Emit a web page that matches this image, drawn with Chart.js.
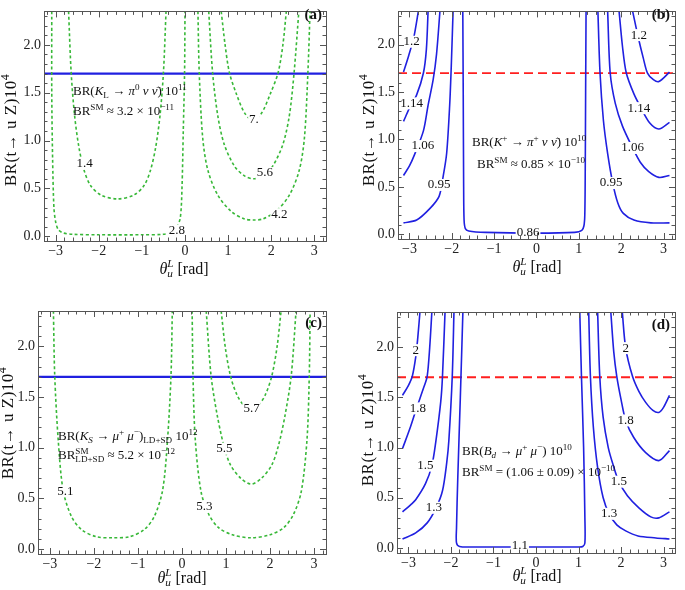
<!DOCTYPE html>
<html>
<head>
<meta charset="utf-8">
<script src="https://cdn.jsdelivr.net/npm/chart.js@4.4.0/dist/chart.umd.min.js"></script>
<style>
body { margin: 0; background: #fff; width: 685px; height: 590px; position: relative; overflow: hidden; }
canvas { position: absolute; }
</style>
</head>
<body>
<canvas id="pa" width="340" height="290" style="left:0;top:0"></canvas>
<canvas id="pb" width="345" height="290" style="left:340px;top:0"></canvas>
<canvas id="pc" width="340" height="300" style="left:0;top:290px"></canvas>
<canvas id="pd" width="345" height="300" style="left:340px;top:290px"></canvas>
<script>
// axes
const thetaTicks = [-3, -2, -1, 0, 1, 2, 3];
const brTicks = [0, 0.5, 1.0, 1.5, 2.0];
const brLimit = 1.7;          // BR(t -> u Z) bound, x10^-4
const thetaSpan = [-3.27, 3.27];

// (a) BR(K_L -> pi0 nu nubar) x10^11 contours, [theta, BR]
const kl14 = [[-2.70,2.35],[-2.64,1.71],[-2.56,1.26],[-2.46,0.93],[-2.34,0.69],[-2.19,0.53],[-1.95,0.43],[-1.57,0.39],[-1.19,0.43],[-0.95,0.53],[-0.80,0.69],[-0.68,0.93],[-0.58,1.26],[-0.50,1.71],[-0.44,2.35]];
const kl28 = [[-3.09,2.35],[-3.09,1.5],[-3.07,0.8],[-3.04,0.3],[-3.0,0.15],[-2.94,0.07],[-2.83,0.035],[-2.6,0.02],[-2.0,0.015],[-1.0,0.015],[-0.5,0.02],[-0.32,0.04],[-0.2,0.09],[-0.11,0.19],[-0.07,0.5],[-0.04,1.1],[-0.01,1.71],[0.0,2.35]];
const kl42 = [[0.30,2.35],[0.33,1.71],[0.41,1.03],[0.53,0.69],[0.76,0.43],[1.07,0.26],[1.38,0.18],[1.59,0.17],[1.80,0.18],[2.11,0.26],[2.42,0.43],[2.65,0.69],[2.77,1.03],[2.85,1.71],[2.90,2.35]];
const kl56 = [[0.55,2.35],[0.64,1.71],[0.76,1.26],[0.91,0.96],[1.15,0.73],[1.38,0.63],[1.59,0.60],[1.80,0.63],[2.03,0.73],[2.27,0.96],[2.42,1.26],[2.53,1.71],[2.64,2.35]];
const kl70 = [[0.84,2.35],[0.93,2.0],[1.03,1.71],[1.19,1.49],[1.38,1.29],[1.58,1.21],[1.78,1.29],[1.98,1.49],[2.16,1.71],[2.27,2.0],[2.35,2.35]];
const klLabels = [['1.4',-2.33,0.76],['2.8',-0.19,0.06],['4.2',2.19,0.23],['5.6',1.85,0.66],['7.',1.60,1.22]];

// (b) BR(K+ -> pi+ nu nubar) x10^10 contours
const kp120L = [[-3.14,1.71],[-3.02,1.88],[-2.9,2.07],[-2.79,2.35]];
const kp114L = [[-3.14,1.19],[-3.0,1.33],[-2.83,1.47],[-2.67,1.70],[-2.6,1.95],[-2.56,2.35]];
const kp106L = [[-3.14,0.62],[-3.0,0.72],[-2.88,0.84],[-2.67,1.09],[-2.56,1.36],[-2.44,1.63],[-2.36,1.9],[-2.28,2.35]];
const kp095L = [[-3.14,0.12],[-2.83,0.15],[-2.52,0.27],[-2.3,0.40],[-2.2,0.62],[-2.12,0.86],[-2.05,1.36],[-2.01,1.8],[-1.97,2.35]];
const kp086 = [[-1.74,2.35],[-1.73,1.5],[-1.72,0.5],[-1.71,0.15],[-1.68,0.06],[-1.6,0.035],[-1.2,0.02],[0,0.012],[0.9,0.02],[1.07,0.04],[1.12,0.09],[1.14,0.2],[1.15,0.6],[1.16,1.5],[1.17,2.35]];
const kp095R = [[1.45,2.35],[1.50,1.70],[1.58,1.2],[1.68,0.85],[1.8,0.54],[1.92,0.33],[2.05,0.22],[2.3,0.15],[2.7,0.12],[3.14,0.12]];
const kp106R = [[1.68,2.35],[1.74,1.70],[1.86,1.38],[2.03,1.14],[2.27,0.91],[2.45,0.76],[2.65,0.66],[2.89,0.60],[3.14,0.62]];
const kp114R = [[1.95,2.35],[2.03,1.98],[2.12,1.70],[2.3,1.48],[2.47,1.33],[2.68,1.17],[2.89,1.11],[3.14,1.18]];
const kp120R = [[2.27,2.35],[2.40,2.08],[2.52,1.86],[2.62,1.70],[2.76,1.63],[2.89,1.61],[3.14,1.71]];
const kpLabels = [['1.2',-2.95,2.03],['1.2',2.42,2.10],['1.14',-2.95,1.38],['1.14',2.42,1.33],['1.06',-2.68,0.93],['1.06',2.27,0.91],['0.95',-2.30,0.52],['0.95',1.76,0.54],['0.86',-0.2,0.02]];

// (c) BR(K_S -> mu+ mu-)_LD+SD x10^12 contours
const ks51 = [[-2.92,2.35],[-2.89,1.71],[-2.81,1.07],[-2.70,0.58],[-2.51,0.32],[-2.28,0.19],[-1.94,0.12],[-1.57,0.11],[-1.20,0.12],[-0.86,0.19],[-0.63,0.32],[-0.44,0.58],[-0.33,1.07],[-0.25,1.71],[-0.22,2.35]];
const ks53 = [[0.23,2.35],[0.25,1.71],[0.30,1.09],[0.43,0.57],[0.61,0.34],[0.83,0.21],[1.14,0.14],[1.57,0.11],[2.0,0.14],[2.31,0.21],[2.53,0.34],[2.71,0.57],[2.84,1.09],[2.89,1.71],[2.91,2.35]];
const ks55 = [[0.55,2.35],[0.66,1.71],[0.80,1.32],[0.95,1.02],[1.10,0.83],[1.33,0.70],[1.57,0.64],[1.81,0.70],[2.04,0.83],[2.19,1.02],[2.34,1.32],[2.48,1.71],[2.59,2.35]];
const ks57 = [[0.89,2.35],[0.98,2.0],[1.10,1.71],[1.25,1.52],[1.42,1.41],[1.57,1.38],[1.72,1.41],[1.89,1.52],[2.04,1.71],[2.16,2.0],[2.25,2.35]];
const ksLabels = [['5.1',-2.65,0.57],['5.3',0.51,0.42],['5.5',0.96,0.99],['5.7',1.58,1.39]];

// (d) BR(B_d -> mu+ mu-) x10^10 contours
const bd20L = [[-3.14,1.52],[-3.0,1.62],[-2.91,1.71],[-2.83,1.9],[-2.78,2.1],[-2.73,2.35]];
const bd18L = [[-3.14,0.99],[-2.95,1.21],[-2.82,1.38],[-2.64,1.60],[-2.56,1.71],[-2.50,2.0],[-2.45,2.35]];
const bd15L = [[-3.14,0.36],[-2.95,0.43],[-2.83,0.48],[-2.6,0.64],[-2.45,0.82],[-2.36,1.05],[-2.24,1.46],[-2.2,1.71],[-2.14,2.35]];
const bd13L = [[-3.14,0.09],[-2.83,0.15],[-2.56,0.25],[-2.35,0.40],[-2.2,0.57],[-2.1,0.85],[-2.05,1.07],[-1.97,1.71],[-1.93,2.35]];
const bd11 = [[-1.72,2.35],[-1.78,1.5],[-1.84,0.7],[-1.87,0.2],[-1.87,0.05],[-1.8,0.015],[-1.5,0.01],[0,0.01],[1.0,0.01],[1.1,0.015],[1.15,0.05],[1.15,0.3],[1.12,1.0],[1.07,1.7],[1.03,2.35]];
const bd13R = [[1.24,2.35],[1.28,1.71],[1.35,1.2],[1.45,0.8],[1.58,0.5],[1.72,0.34],[1.9,0.23],[2.11,0.17],[2.4,0.12],[2.82,0.10],[3.14,0.09]];
const bd15R = [[1.45,2.35],[1.50,1.71],[1.58,1.3],[1.7,1.0],[1.82,0.82],[1.95,0.66],[2.15,0.52],[2.42,0.40],[2.7,0.31],[2.89,0.30],[3.14,0.36]];
const bd18R = [[1.76,2.35],[1.83,1.95],[1.9,1.71],[2.0,1.48],[2.11,1.27],[2.3,1.1],[2.58,0.95],[2.89,0.87],[3.14,0.97]];
const bd20R = [[2.03,2.35],[2.11,1.99],[2.27,1.71],[2.42,1.56],[2.58,1.45],[2.75,1.37],[2.89,1.35],[3.0,1.40],[3.14,1.52]];
const bdLabels = [['2',-2.83,1.97],['2',2.11,1.99],['1.8',-2.78,1.39],['1.8',2.11,1.27],['1.5',-2.6,0.82],['1.5',1.95,0.66],['1.3',-2.4,0.40],['1.3',1.72,0.34],['1.1',-0.38,0.02]];

const GREEN = '#38b838', BLUE = '#2020e0', RED = '#ff1f1f';
const SERIF = '"Liberation Serif", "DejaVu Serif", serif';

function pts(a) { return a.map(([x, y]) => ({ x, y })); }
function dashed(a) { return { data: pts(a), borderColor: GREEN, borderWidth: 1.6, borderDash: [3, 2.5], tension: 0.3 }; }
function solid(a) { return { data: pts(a), borderColor: BLUE, borderWidth: 1.6, tension: 0.3 }; }
function limitLine(red) {
  const d = pts([[thetaSpan[0], brLimit], [thetaSpan[1], brLimit]]);
  return red ? { data: d, borderColor: RED, borderWidth: 1.8, borderDash: [9, 5] }
             : { data: d, borderColor: BLUE, borderWidth: 2.2 };
}

// rich text: parts = [[text, style]], style: i italic, ^ sup, _ sub, s stack with next
function rich(ctx, parts, x, y, size, align) {
  const segs = parts.map(([t, s]) => {
    const small = s.includes('^') || s.includes('_');
    const font = (s.includes('i') ? 'italic ' : '') + (small ? size * 0.7 : size) + 'px ' + SERIF;
    ctx.font = font;
    return { t, font, w: ctx.measureText(t).width, dy: s.includes('^') ? -size * 0.36 : s.includes('_') ? size * 0.28 : 0, stack: s.includes('s') };
  });
  const xs = []; let cx = 0;
  for (let i = 0; i < segs.length; i++) {
    xs[i] = cx;
    if (segs[i].stack && segs[i + 1]) { xs[i + 1] = cx; cx += Math.max(segs[i].w, segs[i + 1].w); i++; }
    else cx += segs[i].w;
  }
  const x0 = align === 'center' ? x - cx / 2 : x;
  ctx.textAlign = 'left';
  ctx.textBaseline = 'middle';
  segs.forEach((s, i) => { ctx.font = s.font; ctx.fillText(s.t, x0 + xs[i], y + s.dy); });
}

const yTitle = [['BR(t\u2192 u Z)10', ''], ['4', '^']];
const xTitle = [['\u03b8', 'i'], ['L', 'i^s'], ['u', 'i_'], [' [rad]', '']];

function makePanel(id, p) {
  const canvas = document.getElementById(id);
  const W = canvas.width, H = canvas.height;
  const deco = {
    id: 'deco',
    afterDraw(chart) {
      const ctx = chart.ctx, a = chart.chartArea, xs = chart.scales.x, ys = chart.scales.y;
      ctx.save();
      // contour labels
      ctx.font = '13px ' + SERIF;
      ctx.textAlign = 'center'; ctx.textBaseline = 'middle';
      p.labels.forEach(([t, x, y]) => {
        const px = xs.getPixelForValue(x), py = ys.getPixelForValue(y);
        const w = ctx.measureText(t).width;
        ctx.fillStyle = '#fff'; ctx.fillRect(px - w / 2 - 1, py - 6, w + 2, 12);
        ctx.fillStyle = '#111'; ctx.fillText(t, px, py);
      });
      // frame and inward ticks
      ctx.strokeStyle = '#555'; ctx.lineWidth = 1;
      ctx.strokeRect(Math.round(a.left) + 0.5, Math.round(a.top) + 0.5, Math.round(a.right - a.left), Math.round(a.bottom - a.top));
      ctx.beginPath();
      for (let v = -32; v <= 32; v += 2) {
        const px = Math.round(xs.getPixelForValue(v / 10)) + 0.5, len = v % 10 === 0 ? 6 : 3.5;
        ctx.moveTo(px, a.bottom); ctx.lineTo(px, a.bottom - len);
        ctx.moveTo(px, a.top); ctx.lineTo(px, a.top + len);
      }
      for (let v = 0; v <= 23; v++) {
        const py = Math.round(ys.getPixelForValue(v / 10)) + 0.5, len = v % 5 === 0 ? 6 : 3.5;
        ctx.moveTo(a.left, py); ctx.lineTo(a.left + len, py);
        ctx.moveTo(a.right, py); ctx.lineTo(a.right - len, py);
      }
      ctx.stroke();
      // titles and notes
      ctx.fillStyle = '#111';
      rich(ctx, xTitle, p.xt[0], p.xt[1], 16, 'center');
      ctx.save(); ctx.translate(p.yt[0], p.yt[1]); ctx.rotate(-Math.PI / 2);
      ctx.letterSpacing = '0.5px';
      rich(ctx, yTitle, 0, 0, 17, 'center'); ctx.restore();
      p.notes.forEach(n => rich(ctx, n.parts, n.x, n.y, 13, 'left'));
      ctx.font = 'bold 15px ' + SERIF; ctx.textAlign = 'right'; ctx.textBaseline = 'middle';
      ctx.fillText(p.letter, p.lt[0], p.lt[1]);
      ctx.restore();
    }
  };
  const tickFont = { family: SERIF, size: 14 };
  return new Chart(canvas, {
    type: 'line',
    data: { datasets: p.datasets.map(d => Object.assign({ pointRadius: 0, fill: false }, d)) },
    options: {
      responsive: false, animation: false,
      layout: { padding: { left: 0, top: p.T, right: W - p.R, bottom: 0 } },
      plugins: { legend: { display: false }, tooltip: { enabled: false } },
      scales: {
        x: {
          type: 'linear', min: thetaSpan[0], max: thetaSpan[1],
          grid: { display: false, drawTicks: false }, border: { display: false },
          afterBuildTicks: s => { s.ticks = thetaTicks.map(v => ({ value: v })); },
          afterFit: s => { s.height = H - p.B; },
          ticks: { font: tickFont, color: '#222', padding: 2, maxRotation: 0, autoSkip: false,
                   callback: v => (v < 0 ? '\u2212' + (-v) : String(v)) }
        },
        y: {
          type: 'linear', min: -0.05, max: 2.35,
          grid: { display: false, drawTicks: false }, border: { display: false },
          afterBuildTicks: s => { s.ticks = brTicks.map(v => ({ value: v })); },
          afterFit: s => { s.width = p.L; },
          ticks: { font: tickFont, color: '#222', padding: 3, autoSkip: false, callback: v => v.toFixed(1) }
        }
      }
    },
    plugins: [deco]
  });
}

makePanel('pa', {
  L: 44, T: 2, R: 326, B: 241,
  datasets: [kl14, kl28, kl42, kl56, kl70].map(dashed).concat([limitLine(false)]),
  labels: klLabels,
  xt: [184, 270], yt: [12, 130], letter: '(a)', lt: [322, 15],
  notes: [
    { x: 73, y: 92, parts: [['BR(', ''], ['K', 'i'], ['L', '_'], [' \u2192 ', ''], ['\u03c0', 'i'], ['0', '^'], [' \u03bd \u03bd\u0304', 'i'], [') 10', ''], ['11', '^']] },
    { x: 73, y: 112, parts: [['BR', ''], ['SM', '^'], [' \u2248 3.2 \u00d7 10', ''], ['\u221211', '^']] }
  ]
});

makePanel('pb', {
  L: 58, T: 3, R: 335, B: 239,
  datasets: [kp120L, kp114L, kp106L, kp095L, kp086, kp095R, kp106R, kp114R, kp120R].map(solid).concat([limitLine(true)]),
  labels: kpLabels,
  xt: [197, 268], yt: [30, 130], letter: '(b)', lt: [330, 15],
  notes: [
    { x: 132, y: 143, parts: [['BR(', ''], ['K', 'i'], ['+', '^'], [' \u2192 ', ''], ['\u03c0', 'i'], ['+', '^'], [' \u03bd \u03bd\u0304', 'i'], [') 10', ''], ['10', '^']] },
    { x: 137, y: 165, parts: [['BR', ''], ['SM', '^'], [' \u2248 0.85 \u00d7 10', ''], ['\u221210', '^']] }
  ]
});

makePanel('pc', {
  L: 38, T: 21, R: 326, B: 264,
  datasets: [ks51, ks53, ks55, ks57].map(dashed).concat([limitLine(false)]),
  labels: ksLabels,
  xt: [182, 289], yt: [9, 133], letter: '(c)', lt: [322, 33],
  notes: [
    { x: 58, y: 147, parts: [['BR(', ''], ['K', 'i'], ['S', 'i_'], [' \u2192 ', ''], ['\u03bc', 'i'], ['+', '^'], [' ', ''], ['\u03bc', 'i'], ['\u2212', '^'], [')', ''], ['LD+SD', '_'], [' 10', ''], ['12', '^']] },
    { x: 58, y: 166, parts: [['BR', ''], ['SM', '^s'], ['LD+SD', '_'], [' \u2248 5.2 \u00d7 10', ''], ['\u221212', '^']] }
  ]
});

makePanel('pd', {
  L: 57, T: 22, R: 335, B: 263,
  datasets: [bd20L, bd18L, bd15L, bd13L, bd11, bd13R, bd15R, bd18R, bd20R].map(solid).concat([limitLine(true)]),
  labels: bdLabels,
  xt: [197, 287], yt: [29, 140], letter: '(d)', lt: [330, 35],
  notes: [
    { x: 122, y: 162, parts: [['BR(', ''], ['B', 'i'], ['d', 'i_'], [' \u2192 ', ''], ['\u03bc', 'i'], ['+', '^'], [' ', ''], ['\u03bc', 'i'], ['\u2212', '^'], [') 10', ''], ['10', '^']] },
    { x: 122, y: 183, parts: [['BR', ''], ['SM', '^'], [' = (1.06 \u00b1 0.09) \u00d7 10', ''], ['\u221210', '^']] }
  ]
});
</script>
</body>
</html>
